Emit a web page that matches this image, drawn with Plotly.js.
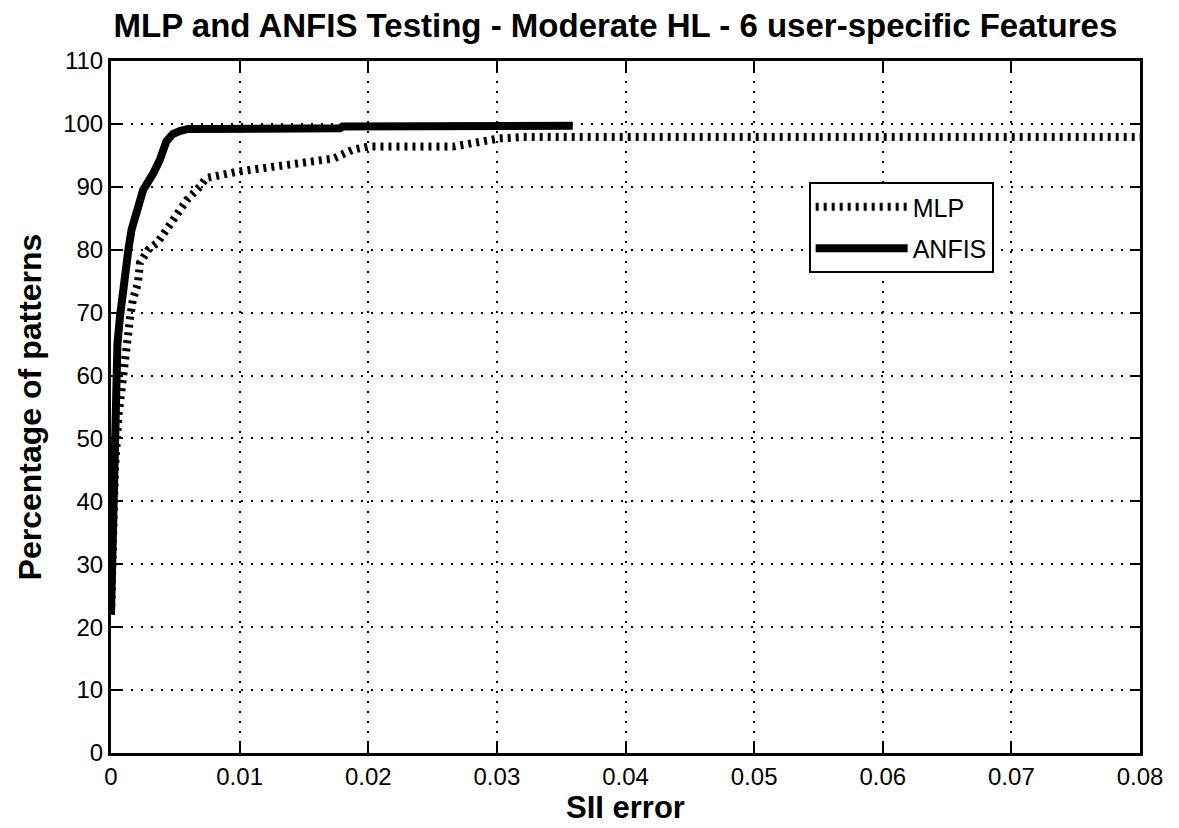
<!DOCTYPE html>
<html>
<head>
<meta charset="utf-8">
<script src="https://cdn.plot.ly/plotly-3.0.1.min.js"></script>
<style>html,body{margin:0;padding:0;background:#fff}#chart{width:1179px;height:828px}</style>
</head>
<body>
<div id="chart"></div>
<script>
const mlpX = [0, 0.0001, 0.0003, 0.0006, 0.00083, 0.00096, 0.0012, 0.0015, 0.0017, 0.0021, 0.00225, 0.0029, 0.0036, 0.0043, 0.005, 0.0059, 0.0069, 0.0074, 0.0098, 0.0139, 0.0173, 0.0188, 0.02, 0.0266, 0.0274, 0.0292, 0.0302, 0.032, 0.08];
const mlpY = [22, 30, 45, 54, 58.3, 60.5, 66.2, 69.4, 72.1, 74.7, 77.9, 80, 81.1, 83.2, 85, 87.9, 90, 91.4, 92.4, 93.5, 94.5, 95.9, 96.4, 96.4, 96.7, 97.2, 97.7, 97.9, 97.9];
const anfisX = [0, 0.0001, 0.0002, 0.0003, 0.00044, 0.0005, 0.0007, 0.00096, 0.00135, 0.0016, 0.002, 0.0025, 0.0033, 0.0038, 0.0043, 0.0048, 0.0054, 0.006, 0.0178, 0.018, 0.0359];
const anfisY = [22, 30, 40, 50, 60, 65, 69.4, 74.7, 80, 83.2, 86.3, 89.5, 92.2, 94.3, 97.2, 98.4, 98.9, 99.2, 99.3, 99.6, 99.7];
const xTicks = [0, 0.01, 0.02, 0.03, 0.04, 0.05, 0.06, 0.07, 0.08];
const xTickText = ["0", "0.01", "0.02", "0.03", "0.04", "0.05", "0.06", "0.07", "0.08"];
const yTicks = [0, 10, 20, 30, 40, 50, 60, 70, 80, 90, 100, 110];

const FONT = "Liberation Sans, Arial, sans-serif";
const traces = [
  {x: mlpX, y: mlpY, name: "MLP", legendgroup: "a", mode: "lines", type: "scatter",
   line: {color: "#000", width: 8, dash: "3px,5px"}},
  {x: anfisX, y: anfisY, name: "ANFIS", legendgroup: "b", mode: "lines", type: "scatter",
   line: {color: "#000", width: 8}}
];
const axisCommon = {
  showline: true, mirror: "ticks", linecolor: "#000", linewidth: 3,
  ticks: "inside", ticklen: 10, tickwidth: 2, tickcolor: "#000",
  showgrid: true, gridcolor: "#000", gridwidth: 2, griddash: "2px,8px",
  zeroline: false, tickfont: {family: FONT, size: 24, color: "#000"}
};
const layout = {
  width: 1179, height: 828,
  margin: {l: 111, r: 39, t: 61, b: 75},
  paper_bgcolor: "#fff", plot_bgcolor: "#fff",
  title: {text: "<b>MLP and ANFIS Testing - Moderate HL - 6 user-specific Features</b>",
          font: {family: FONT, size: 33, color: "#000"}, x: 0.522, xanchor: "center", y: 0.969, yanchor: "middle"},
  xaxis: Object.assign({}, axisCommon, {range: [0, 0.08], tickvals: xTicks, ticktext: xTickText,
    title: {text: "<b>SII error</b>", font: {family: FONT, size: 31, color: "#000"}, standoff: 0}}),
  yaxis: Object.assign({}, axisCommon, {range: [0, 110], tickvals: yTicks,
    title: {text: "<b>Percentage of patterns</b>", font: {family: FONT, size: 32, color: "#000"}, standoff: 12}}),
  showlegend: true,
  legend: {x: 0.678, y: 0.825, xanchor: "left", yanchor: "top", bgcolor: "#fff",
    bordercolor: "#000", borderwidth: 2, font: {family: FONT, size: 25, color: "#000"},
    itemwidth: 92, traceorder: "grouped", tracegroupgap: 6}
};
Plotly.newPlot("chart", traces, layout, {displayModeBar: false});
</script>
</body>
</html>
